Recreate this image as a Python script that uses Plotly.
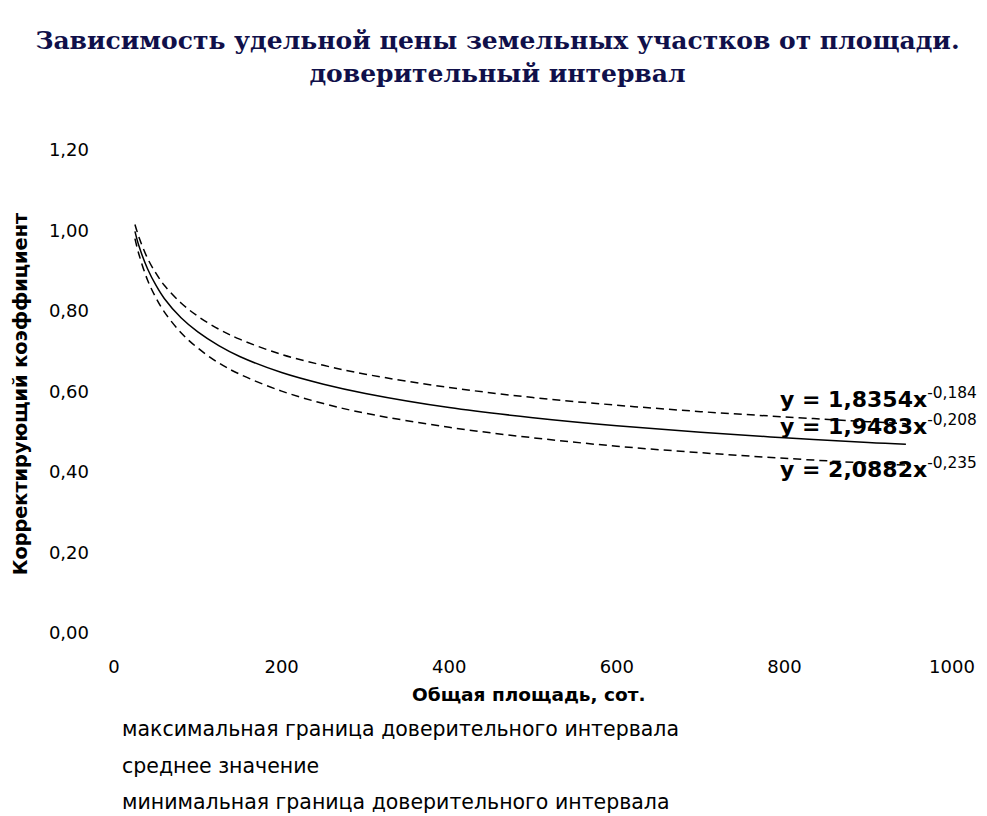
import plotly.graph_objects as go

# Data (trendline curves)
area = [25, 30, 40, 50, 60, 80, 100, 125, 150, 200, 250, 300, 400, 500, 600, 700, 800, 900, 945]
upper_bound = [1.015, 0.982, 0.931, 0.894, 0.864, 0.820, 0.787, 0.755, 0.730, 0.692, 0.665, 0.643,
               0.610, 0.585, 0.566, 0.550, 0.537, 0.525, 0.520]
mean_value = [0.998, 0.960, 0.905, 0.864, 0.831, 0.783, 0.748, 0.714, 0.687, 0.647, 0.618, 0.595,
              0.560, 0.535, 0.515, 0.499, 0.485, 0.473, 0.469]
lower_bound = [0.980, 0.939, 0.877, 0.833, 0.798, 0.746, 0.708, 0.671, 0.643, 0.601, 0.570, 0.546,
               0.511, 0.485, 0.464, 0.448, 0.434, 0.422, 0.417]

series_names = ["максимальная граница доверительного интервала",
                "среднее значение",
                "минимальная граница доверительного интервала"]
eq_main = ["y = 1,8354x", "y = 1,9483x", "y = 2,0882x"]
eq_power = ["-0,184", "-0,208", "-0,235"]
eq_y = [0.584, 0.518, 0.410]
y_ticks = [0, 0.2, 0.4, 0.6, 0.8, 1.0, 1.2]
y_tick_text = ["0,00", "0,20", "0,40", "0,60", "0,80", "1,00", "1,20"]
x_ticks = [0, 200, 400, 600, 800, 1000]

FONT = "DejaVu Sans"

# page has an 8px body margin; plot area lands at x 114..955, y 150..633
W, H = 979, 808
PX0, PX1, PY0, PY1 = 114, 955, 150, 633


def px(xp):
    return (xp - PX0) / (PX1 - PX0)


def py(yp):
    return (PY1 - yp) / (PY1 - PY0)


fig = go.Figure()
for ys, dash, name in [(upper_bound, "8px,5px", series_names[0]),
                       (mean_value, "solid", series_names[1]),
                       (lower_bound, "8px,5px", series_names[2])]:
    fig.add_trace(go.Scatter(x=area, y=ys, mode="lines", name=name,
                             line=dict(color="black", width=1.5, dash=dash, shape="spline"),
                             showlegend=False))

for main, pw, yv in zip(eq_main, eq_power, eq_y):
    fig.add_annotation(x=px(780), y=yv, xref="paper", yref="y",
                       text="<b>" + main + "</b><sup>" + pw + "</sup>",
                       showarrow=False, xanchor="left", yanchor="middle",
                       font=dict(family=FONT, size=22, color="black"))

legend_y = [729, 766, 802]
for txt, yy in zip(series_names, legend_y):
    fig.add_annotation(x=px(120), y=py(yy), xref="paper", yref="paper",
                       text=txt, showarrow=False, xanchor="left", yanchor="middle",
                       font=dict(family=FONT, size=20.5, color="black"))

fig.add_annotation(x=px(530), y=py(694), xref="paper", yref="paper",
                   text="<b>Общая площадь, сот.</b>", showarrow=False,
                   xanchor="center", yanchor="middle",
                   font=dict(family=FONT, size=18.5, color="black"))
fig.add_annotation(x=px(20), y=py(394), xref="paper", yref="paper",
                   text="<b>Корректирующий коэффициент</b>", showarrow=False, textangle=-90,
                   xanchor="center", yanchor="middle",
                   font=dict(family=FONT, size=19.3, color="black"))

fig.update_layout(
    width=W, height=H,
    paper_bgcolor="white", plot_bgcolor="white",
    margin=dict(l=PX0 - 8, r=W - (PX1 - 8), t=PY0 - 8, b=H - (PY1 - 8)),
    title=dict(text="<b>Зависимость удельной цены земельных участков от площади.<br>доверительный интервал</b>",
               x=0.5, xanchor="center", y=1 - (49 - 8) / H, yanchor="middle",
               font=dict(family="DejaVu Serif", size=25, color="#10104a")),
    xaxis=dict(range=[0, 1000], tickvals=x_ticks, showgrid=False, zeroline=False,
               showline=False, ticks="", ticklabelstandoff=21,
               tickfont=dict(family=FONT, size=18, color="black")),
    yaxis=dict(range=[0, 1.2], tickvals=y_ticks, ticktext=y_tick_text, showgrid=False,
               zeroline=False, showline=False, ticks="", ticklabelstandoff=24,
               tickfont=dict(family=FONT, size=18, color="black")),
    showlegend=False,
)

fig.write_html("out.html")
